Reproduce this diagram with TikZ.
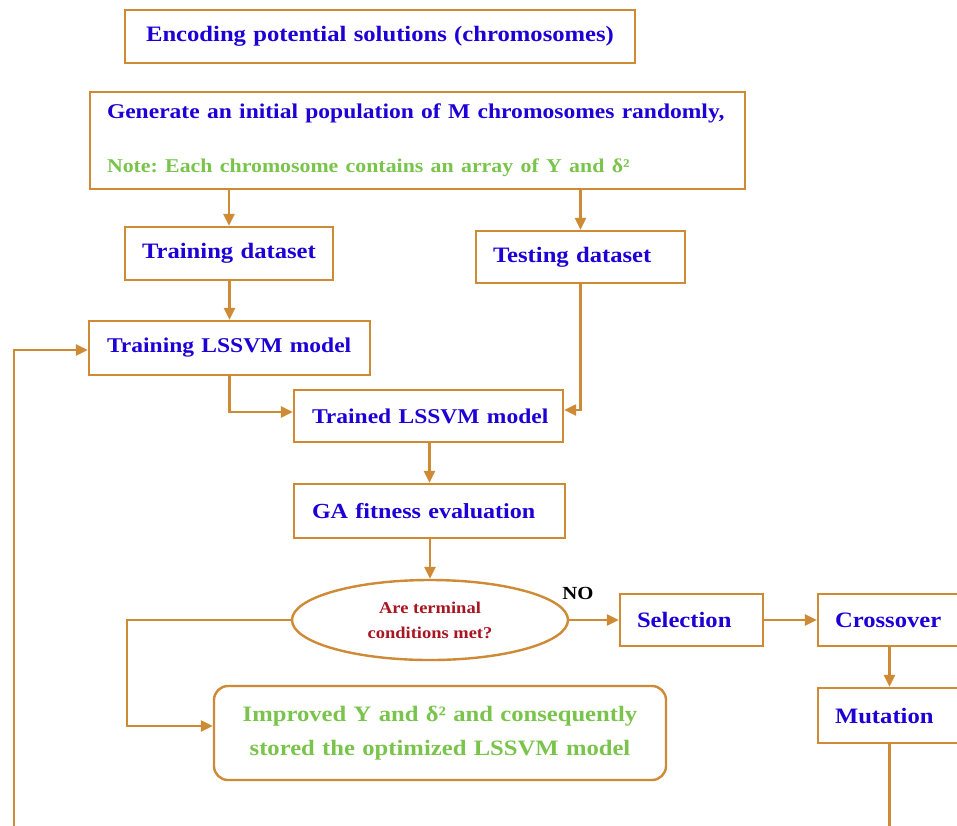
\documentclass[tikz,border=0pt]{standalone}
\usepackage{fontspec}
\setmainfont[FakeStretch=1.12]{Liberation Serif}
\frenchspacing
\usetikzlibrary{arrows.meta,shapes.geometric}
\definecolor{lineC}{RGB}{206,138,52}
\definecolor{blueT}{RGB}{28,0,214}
\definecolor{greenT}{RGB}{122,196,76}
\definecolor{redT}{RGB}{168,22,34}
\tikzset{
  box/.style={draw=lineC, line width=2.4pt, rectangle, inner ysep=0pt, align=left,
    font=\bfseries\fontsize{22}{26}\selectfont, text=blueT},
  arr/.style={draw=lineC, line width=2.4pt, -{Triangle[length=12pt,width=11pt]}},
}
\begin{document}
\begin{tikzpicture}[x=1pt,y=-1pt]
\clip (0,0) rectangle (957,825);
\fill[white] (0,0) rectangle (957,825);
% boxes
\node[box, align=center, minimum width=510pt, minimum height=53pt, text width=476pt, inner xsep=17pt] (enc) at (380,36.5) {Encoding potential solutions (chromosomes)};
\node[box, minimum width=655pt, minimum height=97pt, text width=621pt, inner xsep=17pt] (gen) at (417.5,140.5)
  {{\fontsize{21}{25}\selectfont Generate an initial population of M chromosomes randomly,}\\[28pt]
   {\fontsize{19.5}{24}\selectfont\color{greenT}Note: Each chromosome contains an array of Υ and δ²}};
\node[box, minimum width=208pt, minimum height=53pt, text width=174pt, inner xsep=17pt] (trd) at (229,253.5) {\mbox{Training dataset}};
\node[box, minimum width=209pt, minimum height=52pt, text width=175pt, inner xsep=17pt] (tsd) at (580.5,257) {\mbox{Testing dataset}};
\node[box, minimum width=281pt, minimum height=54pt, text width=245pt, inner xsep=18pt] (tlm) at (229.5,348) {\mbox{\fontsize{21}{26}\selectfont Training LSSVM model}};
\node[box, minimum width=269pt, minimum height=52pt, text width=233pt, inner xsep=18pt] (trm) at (428.5,416) {\mbox{\fontsize{21}{26}\selectfont Trained LSSVM model}};
\node[box, minimum width=271pt, minimum height=54pt, text width=235pt, inner xsep=18pt] (ga) at (429.5,511) {\mbox{\fontsize{21.5}{26}\selectfont GA fitness evaluation}};
\node[draw=lineC, line width=2.4pt, ellipse, minimum width=276pt, minimum height=80pt, inner sep=0pt, align=center,
  font=\bfseries\fontsize{16.5}{25}\selectfont, text=redT] (ell) at (430,620) {Are terminal\\conditions met?};
\node[box, minimum width=143pt, minimum height=52pt, text width=109pt, inner xsep=17pt] (sel) at (691.5,620) {\mbox{Selection}};
\node[box, minimum width=143pt, minimum height=52pt, text width=109pt, inner xsep=17pt] (cro) at (889.5,620) {\mbox{Crossover}};
\node[box, minimum width=143pt, minimum height=55pt, text width=109pt, inner xsep=17pt] (mut) at (889.5,715.5) {\mbox{Mutation}};
\node[box, rounded corners=14pt, align=center, minimum width=452pt, minimum height=94pt, text width=420pt, inner xsep=16pt,
  font=\bfseries\fontsize{22}{34}\selectfont, text=greenT] (imp) at (440,733)
  {Improved Υ and δ² and consequently\\stored the optimized LSSVM model};
\node[font=\bfseries\fontsize{18.5}{20}\selectfont, text=black, inner sep=0pt] (no) at (578,593) {NO};
% helper coordinates
\coordinate (lb) at (127,620);
\coordinate (fb) at (14,840);
% connectors
\draw[arr] (trd.north |- gen.south) -- (trd.north);
\draw[arr] (tsd.north |- gen.south) -- (tsd.north);
\draw[arr] (tlm.north |- trd.south) -- (tlm.north);
\draw[arr] (tlm.south) |- ([yshift=4pt]trm.west);
\draw[arr] (tsd.south) |- ([yshift=6pt]trm.east);
\draw[arr] (ga.north |- trm.south) -- (ga.north);
\draw[arr] (ell.north |- ga.south) -- (ell.north);
\draw[arr] (ell.east) -- (sel.west);
\draw[arr] (sel.east) -- (cro.west);
\draw[arr] (cro.south) -- (mut.north);
\draw[arr] (ell.west) -- (lb) |- ([yshift=7pt]imp.west);
\draw[arr] (mut.south) |- (fb) |- ([yshift=-2pt]tlm.west);
\end{tikzpicture}
\end{document}
